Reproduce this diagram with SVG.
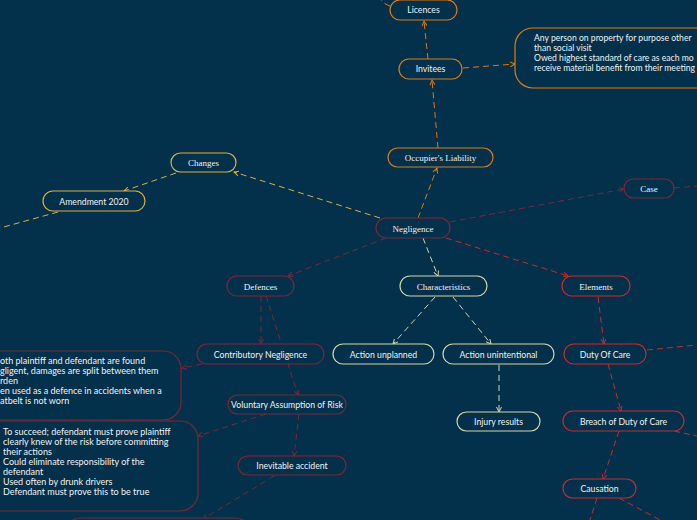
<svg xmlns="http://www.w3.org/2000/svg" width="697" height="520" viewBox="0 0 697 520">
<style>
.bg{fill:#03304b}
.n{fill:#03304b;stroke-width:1.2}
.s{font-family:Lato,"Liberation Sans",sans-serif;font-size:8.7px;fill:#f2f2f2}
.t{font-family:Lato,"Liberation Sans",sans-serif;font-size:9px;fill:#f2f2f2}
.r{font-family:Lato,"Liberation Sans",sans-serif;font-size:8.6px;fill:#f2f2f2}
.f{font-family:"Liberation Serif",serif;font-size:9px;fill:#f2f2f2}
.c{fill:none;stroke-width:1;stroke-dasharray:6,4}
.or{stroke:#e07a12}.go{stroke:#e0ae3c}.mr{stroke:#7e2636}.rd{stroke:#cc2a2e}.be{stroke:#d8d3a6}
</style>
<defs>
<marker id="aor" markerWidth="6" markerHeight="6" refX="5" refY="3" orient="auto" markerUnits="userSpaceOnUse"><path d="M0,0.5 L5,3 L0,5.5" fill="none" stroke="#e07a12" stroke-width="1"/></marker>
<marker id="ago" markerWidth="6" markerHeight="6" refX="5" refY="3" orient="auto" markerUnits="userSpaceOnUse"><path d="M0,0.5 L5,3 L0,5.5" fill="none" stroke="#e0ae3c" stroke-width="1"/></marker>
<marker id="amr" markerWidth="6" markerHeight="6" refX="5" refY="3" orient="auto" markerUnits="userSpaceOnUse"><path d="M0,0.5 L5,3 L0,5.5" fill="none" stroke="#7e2636" stroke-width="1"/></marker>
<marker id="ard" markerWidth="6" markerHeight="6" refX="5" refY="3" orient="auto" markerUnits="userSpaceOnUse"><path d="M0,0.5 L5,3 L0,5.5" fill="none" stroke="#cc2a2e" stroke-width="1"/></marker>
<marker id="abe" markerWidth="6" markerHeight="6" refX="5" refY="3" orient="auto" markerUnits="userSpaceOnUse"><path d="M0,0.5 L5,3 L0,5.5" fill="none" stroke="#d8d3a6" stroke-width="1"/></marker>
</defs>
<rect class="bg" x="0" y="0" width="697" height="520"/>
<g id="connectors">
<path class="c or" d="M418,218 L437,168" marker-end="url(#aor)"/>
<path class="c or" d="M438,148 L432,80" marker-end="url(#aor)"/>
<path class="c or" d="M428,59 L424,21" marker-end="url(#aor)"/>
<path class="c or" d="M463,68 L515,64" marker-end="url(#aor)"/>
<path class="c or" d="M390,6 Q384,4 381,0"/>
<path class="c go" d="M380,218 L234,172" marker-end="url(#ago)"/>
<path class="c go" d="M176,173 L124,191" marker-end="url(#ago)"/>
<path class="c go" d="M58,212 L0,228"/>
<path class="c mr" d="M450,222 L624,189" marker-end="url(#amr)"/>
<path class="c mr" d="M674,188 L697,186"/>
<path class="c mr" d="M386,238 L288,276" marker-end="url(#amr)"/>
<path class="c be" d="M423,238 L438,276" marker-end="url(#abe)"/>
<path class="c rd" d="M446,238 L568,276" marker-end="url(#ard)"/>
<path class="c mr" d="M261,296 L261,344" marker-end="url(#amr)"/>
<path class="c mr" d="M266,296 L298,395" marker-end="url(#amr)"/>
<path class="c mr" d="M202,364 L182,368" marker-end="url(#amr)"/>
<path class="c mr" d="M266,414 L198,436" marker-end="url(#amr)"/>
<path class="c mr" d="M299,414 L294,456" marker-end="url(#amr)"/>
<path class="c mr" d="M274,476 L203,519" marker-end="url(#amr)"/>
<path class="c be" d="M435,297 L393,344" marker-end="url(#abe)"/>
<path class="c be" d="M453,297 L491,344" marker-end="url(#abe)"/>
<path class="c be" d="M499,365 L499,412" marker-end="url(#abe)"/>
<path class="c rd" d="M598,297 L604,344" marker-end="url(#ard)"/>
<path class="c rd" d="M647,350 L697,345"/>
<path class="c rd" d="M608,364 L621,411" marker-end="url(#ard)"/>
<path class="c rd" d="M674,431 L697,436"/>
<path class="c rd" d="M619,431 L603,479" marker-end="url(#ard)"/>
<path class="c rd" d="M597,498 L590,520"/>
<path class="c rd" d="M619,498 L660,520"/>
</g>
<g id="licences"><rect class="n or" x="390" y="0" width="67" height="20" rx="10"/><text class="s" x="423.5" y="13" text-anchor="middle">Licences</text></g>
<g id="invitees"><rect class="n or" x="399" y="59" width="63" height="20" rx="10"/><text class="s" x="430.5" y="72" text-anchor="middle">Invitees</text></g>
<g id="invitees-note"><rect class="n or" x="515" y="28" width="200" height="60" rx="18"/>
<text class="r" x="534" y="41">Any person on property for purpose other</text>
<text class="r" x="534" y="51">than social visit</text>
<text class="r" x="534" y="61">Owed highest standard of care as each mo</text>
<text class="r" x="534" y="71">receive material benefit from their meeting</text></g>
<g id="occupiers"><rect class="n or" x="388" y="148" width="105" height="19" rx="9.5"/><text class="f" x="440.5" y="161" text-anchor="middle">Occupier's Liability</text></g>
<g id="changes"><rect class="n go" x="171" y="153" width="65" height="19" rx="9.5"/><text class="f" x="203.5" y="166" text-anchor="middle">Changes</text></g>
<g id="amendment"><rect class="n go" x="43" y="191" width="102" height="20" rx="10"/><text class="s" x="94" y="204.5" text-anchor="middle">Amendment 2020</text></g>
<g id="case"><rect class="n mr" x="624" y="179" width="50" height="19" rx="9.5"/><text class="f" x="649" y="192" text-anchor="middle">Case</text></g>
<g id="negligence"><rect class="n mr" x="376" y="218" width="74" height="20" rx="10"/><text class="f" x="413" y="231.5" text-anchor="middle">Negligence</text></g>
<g id="defences"><rect class="n mr" x="227" y="276" width="67" height="20" rx="10"/><text class="f" x="260.5" y="289.5" text-anchor="middle">Defences</text></g>
<g id="characteristics"><rect class="n be" x="400" y="276" width="87" height="20" rx="10"/><text class="f" x="443.5" y="289.5" text-anchor="middle">Characteristics</text></g>
<g id="elements"><rect class="n rd" x="562" y="276" width="68" height="20" rx="10"/><text class="f" x="596" y="289.5" text-anchor="middle">Elements</text></g>
<g id="contributory"><rect class="n mr" x="197" y="344" width="127" height="20" rx="10"/><text class="s" x="260.5" y="357.5" text-anchor="middle">Contributory Negligence</text></g>
<g id="unplanned"><rect class="n be" x="333" y="344" width="101" height="20" rx="10"/><text class="s" x="383.5" y="357.5" text-anchor="middle">Action unplanned</text></g>
<g id="unintentional"><rect class="n be" x="443" y="344" width="111" height="20" rx="10"/><text class="s" x="498.5" y="357.5" text-anchor="middle">Action unintentional</text></g>
<g id="duty"><rect class="n rd" x="564" y="344" width="82" height="20" rx="10"/><text class="s" x="605" y="357.5" text-anchor="middle">Duty Of Care</text></g>
<g id="contributory-note"><rect class="n mr" x="-20" y="351" width="201" height="69" rx="18"/>
<text class="t" x="0" y="364">oth plaintiff and defendant are found</text>
<text class="t" x="0" y="374">gligent, damages are split between them</text>
<text class="t" x="0" y="384">rden</text>
<text class="t" x="0" y="394">en used as a defence in accidents when a</text>
<text class="t" x="0" y="404">atbelt is not worn</text></g>
<g id="voluntary"><rect class="n mr" x="228" y="395" width="118" height="19" rx="9.5"/><text class="s" x="287" y="408" text-anchor="middle">Voluntary Assumption of Risk</text></g>
<g id="voluntary-note"><rect class="n mr" x="-20" y="421" width="218" height="90" rx="18"/>
<text class="t" x="3" y="435">To succeed; defendant must prove plaintiff</text>
<text class="t" x="3" y="445">clearly knew of the risk before committing</text>
<text class="t" x="3" y="455">their actions</text>
<text class="t" x="3" y="465">Could eliminate responsibility of the</text>
<text class="t" x="3" y="475">defendant</text>
<text class="t" x="3" y="485">Used often by drunk drivers</text>
<text class="t" x="3" y="495">Defendant must prove this to be true</text></g>
<g id="inevitable"><rect class="n mr" x="238" y="456" width="108" height="19" rx="9.5"/><text class="s" x="292" y="469" text-anchor="middle">Inevitable accident</text></g>
<g id="inevitable-note"><rect class="n mr" x="63" y="518" width="190" height="40" rx="18"/></g>
<g id="injury"><rect class="n be" x="457" y="412" width="83" height="19" rx="9.5"/><text class="s" x="498.5" y="425" text-anchor="middle">Injury results</text></g>
<g id="breach"><rect class="n rd" x="563" y="411" width="121" height="20" rx="10"/><text class="s" x="623.5" y="424.5" text-anchor="middle">Breach of Duty of Care</text></g>
<g id="causation"><rect class="n rd" x="563" y="479" width="73" height="19" rx="9.5"/><text class="s" x="599.5" y="492" text-anchor="middle">Causation</text></g>
</svg>
